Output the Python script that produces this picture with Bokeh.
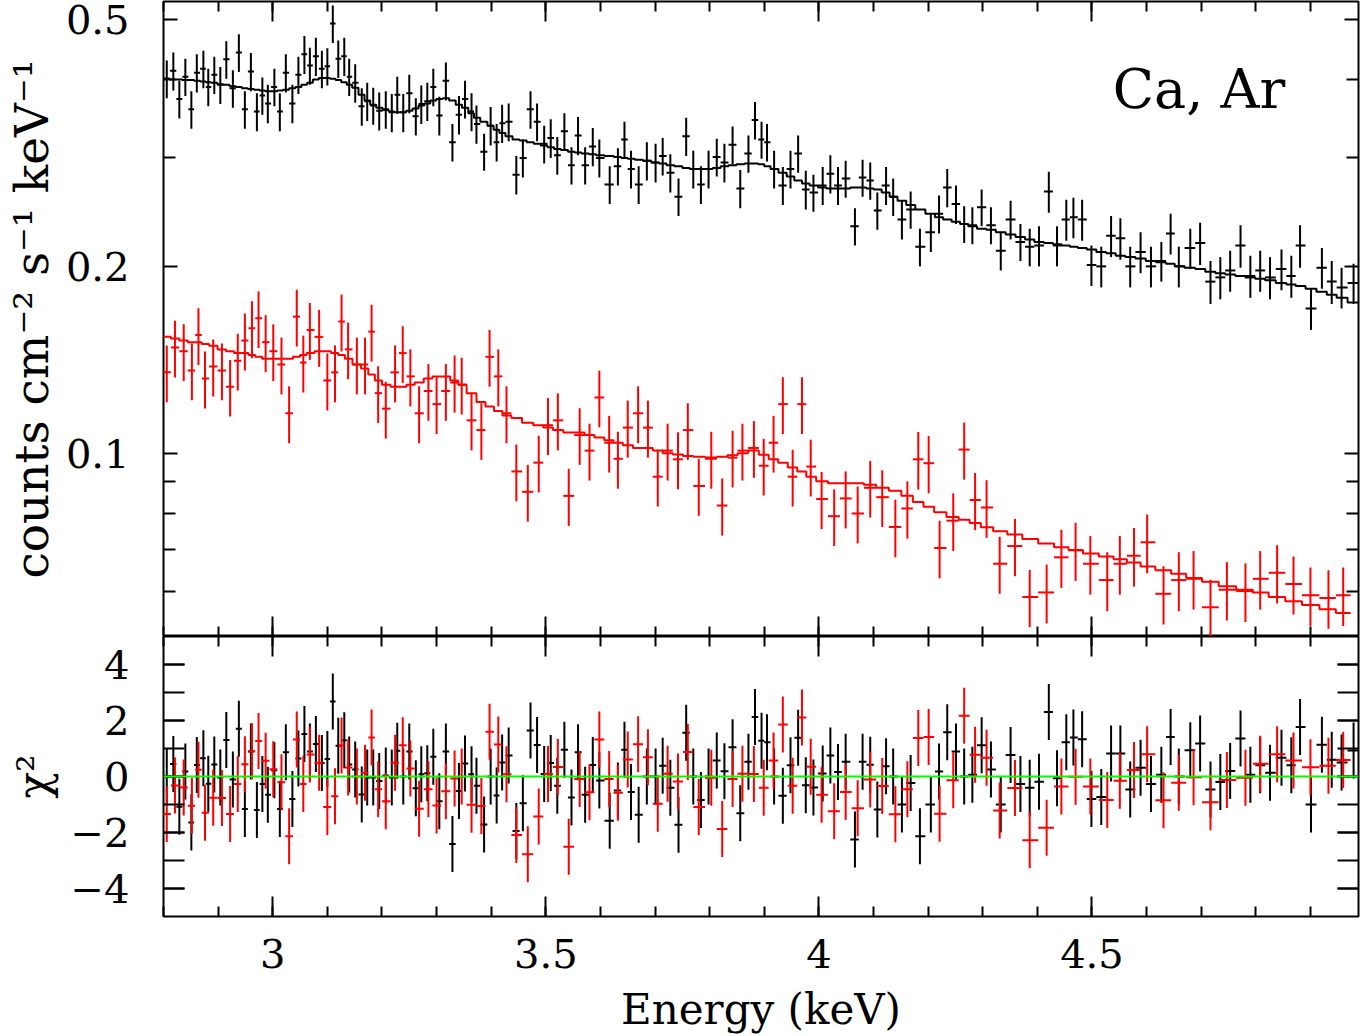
import numpy as np
from bokeh.plotting import figure
from bokeh.layouts import column
from bokeh.models import FixedTicker, LinearAxis, LogAxis, Span, Label, Range1d, PrintfTickFormatter
from bokeh.embed import file_html
from bokeh.resources import INLINE

FONT = "DejaVu Serif"

# ---------------- data ----------------
black_energy = [
    2.806, 2.818, 2.829, 2.840, 2.851, 2.861, 2.873, 2.882, 2.893, 2.904, 2.915, 2.927, 2.938, 2.949, 2.960,
    2.971, 2.981, 2.991, 3.003, 3.013, 3.024, 3.036, 3.047, 3.058, 3.068,
    3.079, 3.090, 3.100, 3.110, 3.120, 3.131, 3.140, 3.151, 3.163, 3.173, 3.184, 3.195, 3.207, 3.218, 3.228,
    3.239, 3.250, 3.262, 3.272, 3.283, 3.294, 3.305, 3.317, 3.329,
    3.341, 3.352, 3.364, 3.373, 3.387, 3.399, 3.410, 3.420, 3.432, 3.446, 3.458, 3.472, 3.484, 3.497, 3.509,
    3.521, 3.534, 3.547, 3.559, 3.572, 3.586, 3.598,
    3.617, 3.632, 3.644, 3.656, 3.670, 3.685, 3.701, 3.714, 3.728, 3.743, 3.757, 3.770, 3.784, 3.798, 3.813,
    3.827, 3.842, 3.856,
    3.871, 3.883, 3.895, 3.905, 3.918, 3.934, 3.948, 3.962, 3.976, 3.990, 4.007, 4.021, 4.035, 4.049, 4.066,
    4.080, 4.094, 4.107, 4.123,
    4.136, 4.152, 4.168, 4.185, 4.205, 4.220, 4.235, 4.251, 4.266, 4.281, 4.298, 4.315, 4.333, 4.351, 4.369, 4.386,
    4.403, 4.421, 4.436, 4.453, 4.466, 4.482, 4.499, 4.517, 4.535, 4.552, 4.570, 4.589, 4.608, 4.627, 4.644, 4.659,
    4.680, 4.698, 4.717, 4.735, 4.753, 4.772, 4.790, 4.808, 4.826, 4.847, 4.865, 4.881, 4.901, 4.921, 4.939,
    4.957, 4.979,
]
black_flux = [
    0.401, 0.413, 0.372, 0.404, 0.358, 0.410, 0.416, 0.389, 0.407, 0.392, 0.431, 0.387, 0.442, 0.358, 0.412,
    0.355, 0.377, 0.366, 0.389, 0.355, 0.410, 0.366, 0.407, 0.439, 0.421,
    0.436, 0.416, 0.420, 0.492, 0.432, 0.436, 0.404, 0.395, 0.362, 0.369, 0.363, 0.356, 0.358, 0.354, 0.378,
    0.354, 0.380, 0.349, 0.365, 0.369, 0.389, 0.350, 0.398, 0.317,
    0.351, 0.372, 0.355, 0.339, 0.306, 0.337, 0.317, 0.340, 0.342, 0.281, 0.299, 0.358, 0.342, 0.315, 0.322,
    0.302, 0.330, 0.291, 0.325, 0.291, 0.312, 0.299,
    0.271, 0.290, 0.320, 0.287, 0.271, 0.296, 0.294, 0.301, 0.283, 0.259, 0.324, 0.287, 0.271, 0.287, 0.300,
    0.294, 0.314, 0.267,
    0.304, 0.344, 0.320, 0.317, 0.287, 0.270, 0.287, 0.304, 0.266, 0.263, 0.270, 0.282, 0.270, 0.277, 0.232,
    0.278, 0.275, 0.246, 0.270,
    0.259, 0.238, 0.247, 0.215, 0.227, 0.243, 0.268, 0.252, 0.234, 0.233, 0.249, 0.233, 0.212, 0.238, 0.219, 0.215,
    0.216, 0.264, 0.216, 0.238, 0.240, 0.238, 0.201, 0.200, 0.224, 0.222, 0.200, 0.211, 0.200, 0.204, 0.226, 0.200,
    0.214, 0.218, 0.189, 0.192, 0.197, 0.216, 0.193, 0.197, 0.192, 0.198, 0.193, 0.216, 0.171, 0.199, 0.189,
    0.185, 0.188,
]
black_err = [
    0.028, 0.029, 0.026, 0.028, 0.025, 0.029, 0.029, 0.027, 0.028, 0.027, 0.030, 0.027, 0.031, 0.025, 0.029,
    0.025, 0.026, 0.026, 0.027, 0.025, 0.029, 0.026, 0.028, 0.031, 0.029,
    0.031, 0.029, 0.029, 0.034, 0.030, 0.031, 0.028, 0.028, 0.025, 0.026, 0.025, 0.025, 0.025, 0.025, 0.026,
    0.025, 0.027, 0.024, 0.026, 0.026, 0.027, 0.025, 0.028, 0.022,
    0.025, 0.026, 0.025, 0.024, 0.021, 0.024, 0.022, 0.024, 0.024, 0.020, 0.021, 0.025, 0.024, 0.022, 0.023,
    0.021, 0.023, 0.020, 0.023, 0.020, 0.022, 0.021,
    0.019, 0.020, 0.022, 0.020, 0.019, 0.021, 0.021, 0.021, 0.020, 0.018, 0.023, 0.020, 0.019, 0.020, 0.021,
    0.021, 0.022, 0.019,
    0.021, 0.024, 0.022, 0.022, 0.020, 0.019, 0.020, 0.021, 0.019, 0.018, 0.019, 0.020, 0.019, 0.019, 0.016,
    0.019, 0.019, 0.017, 0.019,
    0.018, 0.017, 0.017, 0.015, 0.016, 0.017, 0.019, 0.018, 0.016, 0.016, 0.017, 0.016, 0.015, 0.017, 0.015, 0.015,
    0.016, 0.020, 0.016, 0.018, 0.018, 0.018, 0.015, 0.015, 0.017, 0.017, 0.015, 0.016, 0.015, 0.015, 0.017, 0.015,
    0.016, 0.017, 0.015, 0.015, 0.015, 0.017, 0.015, 0.015, 0.015, 0.015, 0.015, 0.017, 0.013, 0.015, 0.015,
    0.014, 0.014,
]
black_model = [
    0.401, 0.400, 0.400, 0.399, 0.399, 0.398, 0.397, 0.396, 0.395, 0.393, 0.392, 0.390, 0.389, 0.387, 0.386,
    0.385, 0.384, 0.383, 0.383, 0.384, 0.385, 0.387, 0.389, 0.392, 0.395,
    0.400, 0.402, 0.402, 0.401, 0.399, 0.396, 0.392, 0.388, 0.378, 0.370, 0.364, 0.360, 0.357, 0.355, 0.354,
    0.354, 0.356, 0.359, 0.363, 0.366, 0.370, 0.372, 0.373, 0.370,
    0.364, 0.360, 0.353, 0.347, 0.342, 0.337, 0.332, 0.328, 0.324, 0.320, 0.319, 0.317, 0.315, 0.313, 0.311,
    0.309, 0.308, 0.306, 0.305, 0.304, 0.303, 0.302,
    0.301, 0.300, 0.299, 0.298, 0.297, 0.296, 0.294, 0.293, 0.291, 0.290, 0.288, 0.287, 0.287, 0.287, 0.288,
    0.290, 0.291, 0.292,
    0.293, 0.293, 0.292, 0.290, 0.287, 0.283, 0.279, 0.275, 0.272, 0.270, 0.268, 0.267, 0.267, 0.267, 0.268,
    0.268, 0.267, 0.266, 0.263,
    0.259, 0.255, 0.251, 0.247, 0.243, 0.240, 0.238, 0.236, 0.234, 0.232, 0.230, 0.229, 0.227, 0.225, 0.223, 0.221,
    0.219, 0.218, 0.217, 0.216, 0.215, 0.214, 0.213, 0.211, 0.210, 0.208, 0.207, 0.206, 0.204, 0.203, 0.202, 0.200,
    0.199, 0.198, 0.196, 0.195, 0.194, 0.193, 0.192, 0.191, 0.190, 0.188, 0.187, 0.186, 0.184, 0.182, 0.180,
    0.178, 0.175,
]

red_energy = [
    2.806, 2.821, 2.837, 2.852, 2.864, 2.876, 2.891, 2.907, 2.922, 2.936, 2.949, 2.962, 2.974, 2.987, 3.001,
    3.016, 3.030, 3.044, 3.056, 3.068,
    3.085, 3.100, 3.114, 3.126, 3.138, 3.154, 3.169, 3.181, 3.193, 3.207, 3.224, 3.238, 3.252, 3.268, 3.285,
    3.300, 3.317, 3.333,
    3.346, 3.364, 3.382, 3.397, 3.413, 3.428, 3.446, 3.467, 3.487, 3.504, 3.522, 3.542, 3.562, 3.580, 3.598,
    3.616, 3.632, 3.650, 3.669, 3.687, 3.705, 3.723, 3.742, 3.760, 3.780, 3.803, 3.823, 3.842, 3.860,
    3.881, 3.899, 3.917, 3.934, 3.952, 3.969, 3.985, 4.005, 4.028, 4.049, 4.071, 4.094, 4.116,
    4.140, 4.162, 4.182, 4.201, 4.221, 4.246, 4.266, 4.286, 4.307, 4.331, 4.359, 4.386,
    4.417, 4.444, 4.470, 4.497, 4.528, 4.551, 4.577, 4.601, 4.631, 4.659,
    4.686, 4.717, 4.747, 4.781, 4.808, 4.839, 4.869, 4.900, 4.933, 4.960,
]
red_flux = [
    0.135, 0.148, 0.146, 0.136, 0.155, 0.132, 0.138, 0.136, 0.128, 0.141, 0.152, 0.159, 0.165, 0.151, 0.146,
    0.139, 0.116, 0.166, 0.140, 0.158,
    0.154, 0.131, 0.135, 0.163, 0.147, 0.139, 0.139, 0.157, 0.125, 0.118, 0.135, 0.145, 0.133, 0.116, 0.126,
    0.120, 0.126, 0.130,
    0.129, 0.113, 0.109, 0.143, 0.133, 0.116, 0.0935, 0.0867, 0.0966, 0.111, 0.113, 0.0854, 0.107, 0.101, 0.123,
    0.104, 0.098, 0.110, 0.116, 0.110, 0.0917, 0.101, 0.0978, 0.109, 0.0886, 0.098, 0.0824, 0.0984, 0.101,
    0.102, 0.0955, 0.104, 0.120, 0.0917, 0.120, 0.0952, 0.0844, 0.0792, 0.0846, 0.080, 0.088, 0.085,
    0.0761, 0.0815, 0.0978, 0.0964, 0.0704, 0.0779, 0.1014, 0.0841, 0.0818, 0.0664, 0.0709, 0.0587,
    0.0597, 0.068, 0.0698, 0.0664, 0.0625, 0.0664, 0.0684, 0.0719, 0.0594, 0.0625,
    0.0628, 0.0565, 0.0603, 0.060, 0.0628, 0.0642, 0.0616, 0.0591, 0.0585, 0.0591,
]
red_err = [
    0.0142, 0.0155, 0.0153, 0.0143, 0.0163, 0.0139, 0.0145, 0.0143, 0.0134, 0.0148, 0.0160, 0.0167, 0.0173,
    0.0159, 0.0153, 0.0146, 0.0122, 0.0174, 0.0147, 0.0166,
    0.0162, 0.0138, 0.0142, 0.0171, 0.0154, 0.0146, 0.0146, 0.0165, 0.0131, 0.0124, 0.0142, 0.0152, 0.0140,
    0.0122, 0.0132, 0.0126, 0.0132, 0.0137,
    0.0135, 0.0119, 0.0114, 0.0150, 0.0140, 0.0122, 0.0098, 0.0091, 0.0101, 0.0117, 0.0119, 0.0090, 0.0112,
    0.0106, 0.0129,
    0.0109, 0.0103, 0.0116, 0.0122, 0.0116, 0.0096, 0.0106, 0.0103, 0.0114, 0.0093, 0.0103, 0.0087, 0.0103, 0.0106,
    0.0107, 0.0100, 0.0109, 0.0126, 0.0096, 0.0126, 0.0100, 0.0089, 0.0083, 0.0089, 0.0084, 0.0092, 0.0089,
    0.0081, 0.0086, 0.0104, 0.0102, 0.0075, 0.0083, 0.0107, 0.0089, 0.0087, 0.0070, 0.0075, 0.0062,
    0.0065, 0.0073, 0.0075, 0.0072, 0.0068, 0.0072, 0.0074, 0.0078, 0.0064, 0.0068,
    0.0068, 0.0061, 0.0065, 0.0065, 0.0068, 0.0069, 0.0066, 0.0064, 0.0063, 0.0064,
]
red_model = [
    0.154, 0.153, 0.152, 0.151, 0.151, 0.150, 0.149, 0.147, 0.146, 0.145, 0.145, 0.144, 0.143, 0.142, 0.142,
    0.142, 0.142, 0.143, 0.144, 0.145,
    0.146, 0.146, 0.145, 0.144, 0.142, 0.139, 0.137, 0.134, 0.131, 0.129, 0.128, 0.128, 0.129, 0.130, 0.132,
    0.133, 0.133, 0.131,
    0.129, 0.125, 0.121, 0.119, 0.117, 0.115, 0.114, 0.112, 0.111, 0.110, 0.109, 0.108, 0.108, 0.107, 0.106,
    0.105, 0.104, 0.103, 0.102, 0.102, 0.101, 0.100, 0.0996, 0.0990, 0.0987, 0.0985, 0.0987, 0.0993, 0.100,
    0.101, 0.0995, 0.0978, 0.0966, 0.0949, 0.0935, 0.0917, 0.0902, 0.0895, 0.0895, 0.0895, 0.0890, 0.0880,
    0.0870, 0.0854, 0.0835, 0.0820, 0.0804, 0.0790, 0.0782, 0.0772, 0.0760, 0.0749, 0.0740, 0.0728,
    0.0716, 0.0706, 0.0699, 0.0690, 0.0682, 0.0675, 0.0667, 0.0657, 0.0648, 0.0640,
    0.0630, 0.0621, 0.0611, 0.0603, 0.0597, 0.0587, 0.0578, 0.0570, 0.0561, 0.0553,
]

x_major_ticks = [3.0, 3.5, 4.0, 4.5]
x_minor_ticks = [2.8, 2.9, 3.0, 3.1, 3.2, 3.3, 3.4, 3.5, 3.6, 3.7, 3.8, 3.9, 4.0, 4.1, 4.2, 4.3, 4.4, 4.5,
                 4.6, 4.7, 4.8, 4.9]
x_tick_labels = {3: "3", 3.5: "3.5", 4: "4", 4.5: "4.5"}
flux_major_ticks = [0.1, 0.2, 0.5]
flux_minor_ticks = [0.06, 0.07, 0.08, 0.09, 0.3, 0.4]
chi_major_ticks = [-4, -2, 0, 2, 4]
chi_minor_ticks = [-4, -3, -2, -1, 0, 1, 2, 3, 4]
chi_tick_labels = {-4: "\u22124", -2: "\u22122", 0: "0", 2: "2", 4: "4"}

flux_label = "counts cm\u207b\u00b2 s\u207b\u00b9 keV\u207b\u00b9"
chi_label = "\u03c7\u00b2"
energy_label = "Energy (keV)"
panel_text = "Ca, Ar"


# ---------------- helpers ----------------
def bin_edges(c):
    c = np.asarray(c, dtype=float)
    mid = 0.5 * (c[1:] + c[:-1])
    lo = np.concatenate([[c[0] - (mid[0] - c[0])], mid])
    hi = np.concatenate([mid, [c[-1] + (c[-1] - mid[-1])]])
    return lo, hi


def step_path(lo, hi, m):
    xs = np.column_stack([lo, hi]).ravel()
    ys = np.repeat(np.asarray(m, dtype=float), 2)
    return xs, ys


def style_axis(ax, ticker, major_in, minor_in, labels=True, standoff=0, overrides=None, formatter=None):
    ax.ticker = ticker
    if formatter is not None:
        ax.formatter = formatter
    ax.axis_line_color = None
    ax.major_tick_in = major_in
    ax.major_tick_out = 0
    ax.minor_tick_in = minor_in
    ax.minor_tick_out = 0
    ax.major_tick_line_width = 2
    ax.minor_tick_line_width = 2
    ax.major_tick_line_color = "black"
    ax.minor_tick_line_color = "black"
    if labels:
        ax.major_label_text_font = FONT
        ax.major_label_text_font_size = "40px"
        ax.major_label_text_color = "black"
        ax.major_label_standoff = standoff
    else:
        ax.major_label_text_font_size = "0px"
        ax.major_label_standoff = 0
    if overrides:
        ax.major_label_overrides = overrides


def style_axis_label(ax, text, size, standoff):
    ax.axis_label = text
    ax.axis_label_text_font = FONT
    ax.axis_label_text_font_size = size
    ax.axis_label_text_font_style = "normal"
    ax.axis_label_text_color = "black"
    ax.axis_label_standoff = standoff


xr = Range1d(2.8, 4.988)

# ---------------- top panel ----------------
top = figure(width=1360, height=636, x_range=xr, y_range=Range1d(0.0507, 0.534), y_axis_type="log",
             output_backend="svg", toolbar_location=None,
             min_border_left=162, min_border_right=2, min_border_top=1, min_border_bottom=0)
top.grid.visible = False
top.outline_line_color = "black"
top.outline_line_width = 2
top.background_fill_color = "white"
top.border_fill_color = "white"

x_ticker = FixedTicker(ticks=x_major_ticks, minor_ticks=x_minor_ticks)
flux_ticker = FixedTicker(ticks=flux_major_ticks, minor_ticks=flux_minor_ticks)

style_axis(top.xaxis[0], x_ticker, 20, 10, labels=False)
ax_above_top = LinearAxis()
style_axis(ax_above_top, x_ticker, 20, 10, labels=False)
top.add_layout(ax_above_top, "above")

ax_left_top = top.yaxis[0]
style_axis(ax_left_top, flux_ticker, 14, 12, labels=True, standoff=34,
           formatter=PrintfTickFormatter(format="%.1f"))
style_axis_label(ax_left_top, flux_label, "47px", 4)
ax_right_top = LogAxis()
style_axis(ax_right_top, flux_ticker, 14, 12, labels=False)
top.add_layout(ax_right_top, "right")

for energy, flux, err, model, color in [
    (black_energy, black_flux, black_err, black_model, "black"),
    (red_energy, red_flux, red_err, red_model, "#ff0000"),
]:
    e = np.asarray(energy)
    f = np.asarray(flux)
    s = np.asarray(err)
    lo, hi = bin_edges(e)
    top.segment(x0=e, y0=f - s, x1=e, y1=f + s, line_color=color, line_width=2)
    top.segment(x0=lo, y0=f, x1=hi, y1=f, line_color=color, line_width=2)
    xs, ys = step_path(lo, hi, model)
    top.line(xs, ys, line_color=color, line_width=2)

top.add_layout(Label(x=4.538, y=0.386, text=panel_text, text_font=FONT, text_font_size="54px",
                     text_color="black", text_baseline="alphabetic", text_align="left"))

# ---------------- residual panel ----------------
bot = figure(width=1360, height=400, x_range=xr, y_range=Range1d(-5, 5),
             output_backend="svg", toolbar_location=None,
             min_border_left=162, min_border_right=2, min_border_top=0)
bot.grid.visible = False
bot.outline_line_color = "black"
bot.outline_line_width = 2
bot.background_fill_color = "white"
bot.border_fill_color = "white"

chi_ticker = FixedTicker(ticks=chi_major_ticks, minor_ticks=chi_minor_ticks)

ax_bottom = bot.xaxis[0]
style_axis(ax_bottom, x_ticker, 20, 10, labels=True, standoff=22, overrides=x_tick_labels)
style_axis_label(ax_bottom, energy_label, "42px", 14)
ax_above = LinearAxis()
style_axis(ax_above, x_ticker, 20, 10, labels=False)
bot.add_layout(ax_above, "above")

ax_left = bot.yaxis[0]
style_axis(ax_left, chi_ticker, 21, 21, labels=True, standoff=34, overrides=chi_tick_labels)
style_axis_label(ax_left, chi_label, "44px", 9)
ax_right = LinearAxis()
style_axis(ax_right, chi_ticker, 21, 21, labels=False)
bot.add_layout(ax_right, "right")

for energy, flux, err, model, color in [
    (black_energy, black_flux, black_err, black_model, "black"),
    (red_energy, red_flux, red_err, red_model, "#ff0000"),
]:
    e = np.asarray(energy)
    r = (np.asarray(flux) - np.asarray(model)) / np.asarray(err)
    lo, hi = bin_edges(e)
    bot.segment(x0=e, y0=r - 1, x1=e, y1=r + 1, line_color=color, line_width=2)
    bot.segment(x0=lo, y0=r, x1=hi, y1=r, line_color=color, line_width=2)

bot.add_layout(Span(location=0, dimension="width", line_color="#00ff00", line_width=2))

layout = column(top, bot, spacing=0)
html = file_html(layout, INLINE, title="Ca, Ar spectrum")
html = html.replace("<body>", '<body style="margin:0">', 1)
open("out.html", "w").write(html)
